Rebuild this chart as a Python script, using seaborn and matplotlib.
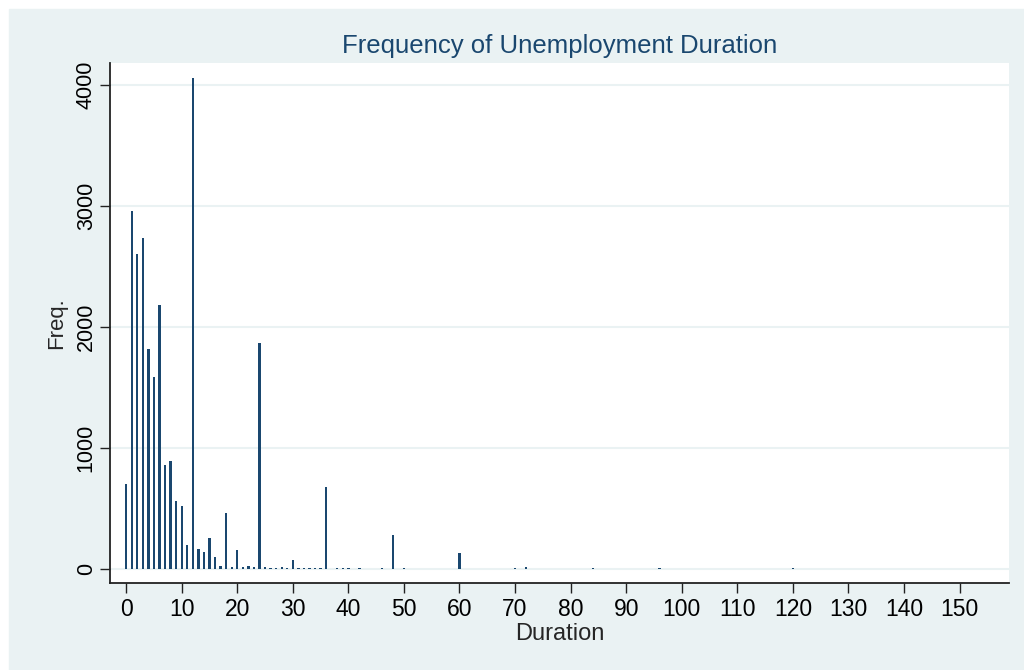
import matplotlib
matplotlib.use("Agg")
import matplotlib.pyplot as plt
import numpy as np
import pandas as pd
import seaborn as sns
from matplotlib.patches import Rectangle

# Unemployment duration (months) and number of observations
duration = [0, 1, 2, 3, 4, 5, 6, 7, 8, 9, 10, 11, 12, 13, 14, 15, 16, 17, 18, 19,
            20, 21, 22, 23, 24, 25, 26, 27, 28, 29, 30, 31, 32, 33, 34, 35, 36,
            38, 39, 40, 42, 44, 45, 46, 47, 48, 50, 51, 54, 55, 56, 60, 64, 65,
            66, 70, 72, 84, 94, 96, 99, 105, 108, 120, 122, 140, 144, 156]
freq = [700, 2960, 2600, 2735, 1820, 1590, 2180, 860, 890, 560, 520, 200, 4055,
        162, 143, 254, 102, 22, 460, 14, 157, 16, 22, 16, 1868, 16, 10, 8, 15, 4,
        72, 4, 4, 4, 4, 4, 675, 4, 4, 9, 5, 3, 3, 4, 3, 280, 7, 3, 2, 2, 2, 130,
        2, 2, 2, 4, 16, 5, 1, 6, 1, 1, 1, 10, 1, 1, 1, 1]

y_ticks = [0, 1000, 2000, 3000, 4000]
x_ticks = list(range(0, 151, 10))

BG = "#EAF2F3"
NAVY = "#1a476f"

df = pd.DataFrame({"Duration": duration, "Freq.": freq})

sns.set_style("white")
plt.rcParams["font.family"] = ["Liberation Sans", "DejaVu Sans"]

fig = plt.figure(figsize=(10.24, 6.7), dpi=100, facecolor="white")
# graph region background (screenshot has a thin white margin top/left)
fig.patches.append(Rectangle((9 / 1024, 0), 1, 1 - 9 / 670,
                             transform=fig.transFigure, color=BG, zorder=-10))
ax = fig.add_axes([110 / 1024, 87 / 670, 899 / 1024, 520 / 670])
ax.set_facecolor("white")

sns.barplot(data=df, x="Duration", y="Freq.", native_scale=True, ax=ax,
            color=NAVY, width=0.42, linewidth=0, errorbar=None, saturation=1)

ax.set_xlim(-2.9, 158.9)
ax.set_ylim(-116, 4182)
ax.set_yticks(y_ticks)
ax.set_xticks(x_ticks)
ax.set_yticklabels([str(v) for v in y_ticks], rotation=90, va="center")
ax.tick_params(axis="both", direction="out", length=7.5, width=1, color="#222222",
               labelcolor="black", left=True, bottom=True, pad=3)
ax.tick_params(axis="x", labelsize=16.5)
ax.tick_params(axis="y", labelsize=15.5, pad=2)
ax.grid(axis="y", color=BG, linewidth=1.5)
ax.set_axisbelow(True)

for side in ["top", "right"]:
    ax.spines[side].set_visible(False)
for side in ["left", "bottom"]:
    ax.spines[side].set_color("#222222")
    ax.spines[side].set_linewidth(1.3)

ax.set_xlabel("Duration", fontsize=17, labelpad=2)
ax.set_ylabel("Freq.", fontsize=16, labelpad=6)
ax.set_title("Frequency of Unemployment Duration", fontsize=18.5,
             color=NAVY, pad=7)

fig.savefig("out.png", dpi=100, facecolor=fig.get_facecolor())
